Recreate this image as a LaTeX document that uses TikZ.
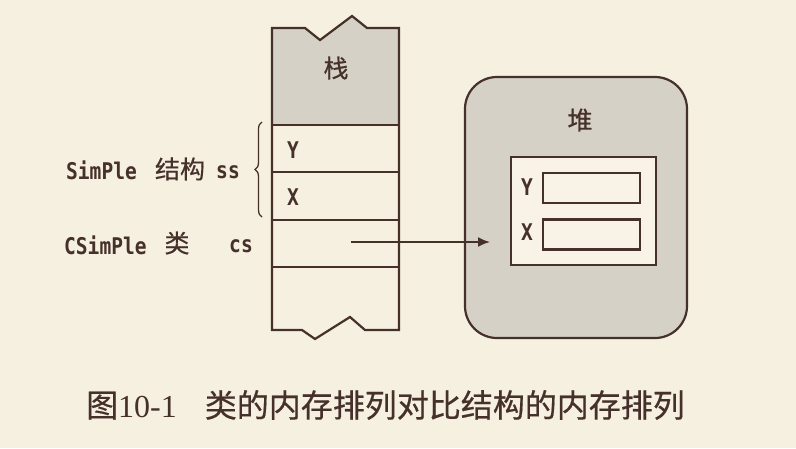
\documentclass[tikz,border=0pt]{standalone}
\usepackage{fontspec}
\setmainfont{Liberation Serif}
\newfontfamily\cjk[FakeBold=0.5]{Noto Sans CJK SC}
\newfontfamily\codefont[FakeStretch=0.85]{DejaVu Sans Mono}
\usetikzlibrary{positioning,arrows.meta,decorations.pathreplacing,calc}
\definecolor{paper}{HTML}{F6F0E1}
\definecolor{ink}{HTML}{45302A}
\definecolor{stackgray}{HTML}{D6D1C6}
\definecolor{objfill}{HTML}{F8F3E6}

\begin{document}
\begin{tikzpicture}[x=1pt,y=-1pt,
  wall/.style={draw=ink, line width=2.2pt},
  lab/.style={font=\codefont\bfseries\fontsize{23}{23}\selectfont, text=ink, inner sep=0pt},
  han/.style={font=\cjk\fontsize{25}{25}\selectfont, text=ink, inner sep=0pt},
  field/.style={wall, fill=objfill, minimum width=97pt, minimum height=30pt, inner sep=0pt}]
% Page and background
\useasboundingbox (0,0) rectangle (796,448);
\fill[paper] (0,0) rectangle (796,448);

% Stack column (torn at top and bottom)
\fill[stackgray] (272,28) -- (305,28) -- (320,40) -- (352,16) -- (367,28) -- (399,28)
  -- (399,125) -- (272,125) -- cycle;
\draw[wall, line join=miter] (272,28) -- (305,28) -- (320,40) -- (352,16) -- (367,28) -- (399,28)
  -- (399,330) -- (365,330) -- (350,317) -- (315,339) -- (302,330) -- (272,330) -- cycle;
\foreach \yy in {125,172,220,267}
  \draw[wall] (272,\yy) -- (399,\yy);
\node[han] (zhan) at (336,68) {栈};
\node[lab] (sy) at (293,150) {Y};
\node[lab] (sx) at (293,197) {X};

% Labels on the left
\node[lab, anchor=west] (ssname) at (66,170) {SimPle};
\node[han] (jiegou) at (180,169) {结构};
\node[lab] (ss) at (228,172) {ss};
\draw[ink, line width=1.3pt, decorate, decoration={brace, amplitude=7pt}] (262,217) -- (262,122);
\node[lab, anchor=west] (csname) at (64,245) {CSimPle};
\node[han] (lei) at (177,243) {类};
\node[lab] (cs) at (241,246) {cs};

% Heap with the object
\node[wall, fill=stackgray, rounded corners=32pt, minimum width=222pt, minimum height=261pt] (heap) at (576,207.5) {};
\node[han] (dui) at (580,120) {堆};
\node[wall, fill=objfill, minimum width=145pt, minimum height=108pt, inner sep=0pt] (obj) at (583.5,211) {};
\node[field] (fy) at (591.5,188) {};
\node[field] (fx) at (591.5,234.5) {};
\node[lab] (hy) at (527,187) {Y};
\node[lab] (hx) at (527,232) {X};

% Reference from cs to the object
\coordinate (ptr) at (351,242);
\coordinate (tip) at (490,242);
\draw[ink, line width=1.8pt, -{Latex[length=12pt,width=10pt]}] (ptr) -- (tip);

% Caption
\node[anchor=west, text=ink, inner sep=0pt] (cap) at (86,405)
  {\cjk\fontsize{32}{32}\selectfont 图\rmfamily 10-1\hspace{28pt}\cjk 类的内存排列对比结构的内存排列};
\end{tikzpicture}
\end{document}
